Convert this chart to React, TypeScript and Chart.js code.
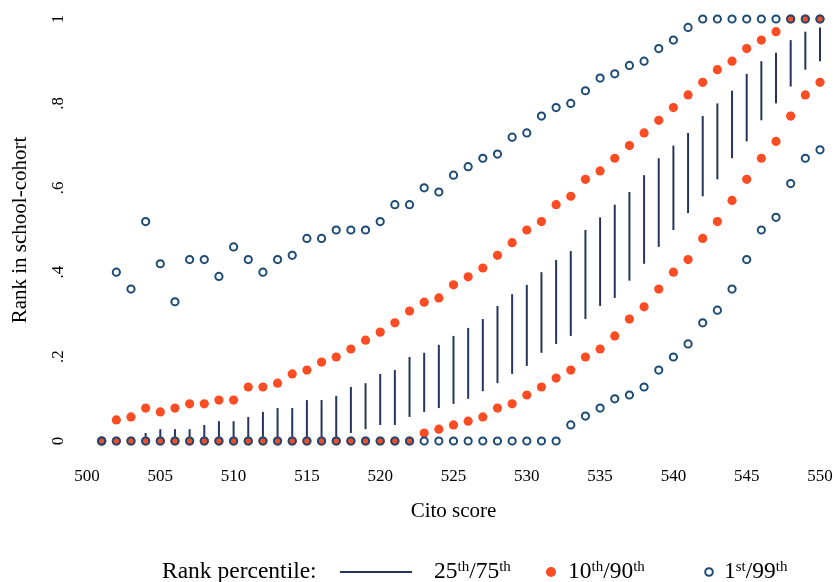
import React, { useEffect, useRef } from 'react';
import { Chart, registerables } from 'chart.js';

Chart.register(...registerables);

const scores = [
  501, 502, 503, 504, 505, 506, 507, 508, 509, 510,
  511, 512, 513, 514, 515, 516, 517, 518, 519, 520,
  521, 522, 523, 524, 525, 526, 527, 528, 529, 530,
  531, 532, 533, 534, 535, 536, 537, 538, 539, 540,
  541, 542, 543, 544, 545, 546, 547, 548, 549, 550,
];

// 1st percentile (lower open circles)
const p1 = [
  0, 0, 0, 0, 0, 0, 0, 0, 0, 0,
  0, 0, 0, 0, 0, 0, 0, 0, 0, 0,
  0, 0, 0, 0, 0, 0, 0, 0, 0, 0,
  0, 0, 0.038, 0.059, 0.078, 0.1, 0.109, 0.128, 0.168, 0.199,
  0.23, 0.28, 0.31, 0.36, 0.43, 0.5, 0.53, 0.61, 0.67, 0.69,
];

// 99th percentile (upper open circles)
const p99 = [
  0, 0.4, 0.36, 0.52, 0.42, 0.33, 0.43, 0.43, 0.39, 0.46,
  0.43, 0.4, 0.43, 0.44, 0.48, 0.48, 0.5, 0.5, 0.5, 0.52,
  0.56, 0.56, 0.6, 0.59, 0.63, 0.65, 0.67, 0.68, 0.72, 0.73,
  0.77, 0.79, 0.8, 0.83, 0.86, 0.87, 0.89, 0.9, 0.93, 0.95,
  0.98, 1, 1, 1, 1, 1, 1, 1, 1, 1,
];

// 10th percentile (lower red dots)
const p10 = [
  0, 0, 0, 0, 0, 0, 0, 0, 0, 0,
  0, 0, 0, 0, 0, 0, 0, 0, 0, 0,
  0, 0, 0.019, 0.028, 0.038, 0.047, 0.057, 0.078, 0.088, 0.109,
  0.128, 0.149, 0.168, 0.199, 0.218, 0.249, 0.289, 0.318, 0.36, 0.4,
  0.43, 0.48, 0.52, 0.57, 0.62, 0.67, 0.71, 0.77, 0.82, 0.85,
];

// 90th percentile (upper red dots)
const p90 = [
  0, 0.05, 0.057, 0.078, 0.069, 0.078, 0.088, 0.088, 0.097, 0.097,
  0.128, 0.128, 0.137, 0.159, 0.168, 0.187, 0.199, 0.218, 0.239, 0.258,
  0.28, 0.308, 0.329, 0.339, 0.37, 0.389, 0.41, 0.44, 0.47, 0.5,
  0.52, 0.56, 0.58, 0.62, 0.64, 0.67, 0.7, 0.73, 0.76, 0.79,
  0.82, 0.85, 0.88, 0.9, 0.93, 0.95, 0.97, 1, 1, 1,
];

// 25th percentile (bottom of vertical lines)
const p25 = [
  0, 0, 0, 0, 0, 0, 0, 0, 0, 0,
  0, 0, 0, 0, 0, 0, 0, 0.019, 0.028, 0.038,
  0.038, 0.057, 0.069, 0.078, 0.088, 0.1, 0.118, 0.137, 0.159, 0.178,
  0.209, 0.23, 0.249, 0.289, 0.32, 0.339, 0.38, 0.42, 0.46, 0.5,
  0.54, 0.58, 0.62, 0.67, 0.71, 0.76, 0.8, 0.84, 0.88, 0.9,
];

// 75th percentile (top of vertical lines)
const p75 = [
  0, 0, 0, 0.019, 0.028, 0.028, 0.028, 0.038, 0.047, 0.047,
  0.057, 0.069, 0.078, 0.078, 0.097, 0.097, 0.107, 0.128, 0.137, 0.159,
  0.168, 0.199, 0.209, 0.228, 0.249, 0.268, 0.289, 0.32, 0.348, 0.37,
  0.4, 0.429, 0.45, 0.5, 0.53, 0.56, 0.59, 0.63, 0.67, 0.7,
  0.73, 0.77, 0.8, 0.83, 0.87, 0.9, 0.92, 0.95, 0.97, 0.98,
];

const xTicks = [500, 505, 510, 515, 520, 525, 530, 535, 540, 545, 550];
const yTicks = [0, 0.2, 0.4, 0.6, 0.8, 1];
const yTickLabels = ['0', '.2', '.4', '.6', '.8', '1'];

const xTitle = 'Cito score';
const yTitle = 'Rank in school-cohort';
const legendTitle = 'Rank percentile:';

const NAVY_LINE = '#27355c';
const NAVY = '#1c4b75';
const RED = '#fc4c23';
const SERIF = '"Liberation Serif", "Times New Roman", Times, serif';

const legendPlugin = {
  id: 'stataLegend',
  afterDraw(chart: any) {
    const ctx = chart.ctx;
    const size = 23.5;
    const supSize = 15;
    const y = 572;
    ctx.save();
    ctx.fillStyle = '#000';
    ctx.textBaseline = 'middle';
    ctx.textAlign = 'left';
    const drawParts = (parts: [string, boolean][], x0: number) => {
      let x = x0;
      for (const [t, sup] of parts) {
        ctx.font = `${sup ? supSize : size}px ${SERIF}`;
        ctx.fillText(t, x, sup ? y - 5 : y);
        x += ctx.measureText(t).width;
      }
    };
    drawParts([[legendTitle, false]], 162);
    // line
    ctx.strokeStyle = NAVY_LINE;
    ctx.lineWidth = 2;
    ctx.beginPath();
    ctx.moveTo(340, y);
    ctx.lineTo(412, y);
    ctx.stroke();
    drawParts([['25', false], ['th', true], ['/75', false], ['th', true]], 434);
    // red dot
    ctx.fillStyle = RED;
    ctx.beginPath();
    ctx.arc(551, y, 5, 0, Math.PI * 2);
    ctx.fill();
    ctx.fillStyle = '#000';
    drawParts([['10', false], ['th', true], ['/90', false], ['th', true]], 568);
    // open circle
    ctx.strokeStyle = NAVY;
    ctx.lineWidth = 2;
    ctx.beginPath();
    ctx.arc(709, y, 3.8, 0, Math.PI * 2);
    ctx.stroke();
    ctx.fillStyle = '#000';
    drawParts([['1', false], ['st', true], ['/99', false], ['th', true]], 724);
    ctx.restore();
  },
};

export default function App() {
  const ref = useRef<HTMLCanvasElement | null>(null);

  useEffect(() => {
    if (!ref.current) return;
    const bars = scores
      .map((s, i) => ({ x: s, y: [p25[i], p75[i]] }))
      .filter((d) => d.y[1] > d.y[0]);
    const pts = (arr: number[]) => scores.map((s, i) => ({ x: s, y: arr[i] }));

    const chart = new Chart(ref.current, {
      type: 'scatter',
      data: {
        datasets: [
          {
            type: 'scatter',
            label: '1st/99th',
            data: [...pts(p1), ...pts(p99)],
            pointRadius: 3.6,
            pointBorderWidth: 2,
            pointBorderColor: NAVY,
            pointBackgroundColor: 'rgba(0,0,0,0)',
            pointHoverRadius: 3.6,
            clip: false,
            order: 1,
          } as any,
          {
            type: 'scatter',
            label: '10th/90th',
            data: [...pts(p10), ...pts(p90)],
            pointRadius: 4.6,
            pointBorderWidth: 0,
            pointBackgroundColor: RED,
            pointBorderColor: RED,
            clip: false,
            order: 2,
          } as any,
          {
            type: 'bar',
            label: '25th/75th',
            data: bars,
            backgroundColor: NAVY_LINE,
            borderWidth: 0,
            barThickness: 2,
            inflateAmount: 0,
            clip: false,
            order: 3,
          } as any,
        ],
      },
      options: {
        animation: false,
        responsive: false,
        devicePixelRatio: 1,
        layout: { padding: { left: 0, right: 14, top: 19, bottom: 0 } },
        plugins: {
          legend: { display: false },
          tooltip: { enabled: false },
        },
        scales: {
          x: {
            type: 'linear',
            min: 500,
            max: 550,
            offset: false,
            grid: { display: false, drawTicks: false },
            border: { display: false },
            afterBuildTicks: (scale: any) => {
              scale.ticks = xTicks.map((v) => ({ value: v }));
            },
            afterFit: (scale: any) => {
              scale.height = 141;
              scale.paddingLeft = 0;
              scale.paddingRight = 0;
            },
            ticks: {
              color: '#000',
              font: { family: SERIF, size: 17 },
              padding: 25,
              maxRotation: 0,
              callback: (v: any) => String(v),
            },
            title: {
              display: true,
              text: xTitle,
              color: '#000',
              font: { family: SERIF, size: 21 },
              padding: { top: 0, bottom: 58 },
            },
          },
          y: {
            type: 'linear',
            min: 0,
            max: 1,
            grid: { display: false, drawTicks: false },
            border: { display: false },
            afterBuildTicks: (scale: any) => {
              scale.ticks = yTicks.map((v) => ({ value: v }));
            },
            afterFit: (scale: any) => {
              scale.width = 87;
              scale.paddingTop = 0;
              scale.paddingBottom = 0;
            },
            ticks: {
              color: '#000',
              font: { family: SERIF, size: 17 },
              padding: 22,
              minRotation: 90,
              maxRotation: 90,
              crossAlign: 'center',
              callback: (v: any) => {
                const i = yTicks.findIndex((t) => Math.abs(t - v) < 1e-9);
                return i >= 0 ? yTickLabels[i] : '';
              },
            },
            title: {
              display: true,
              text: yTitle,
              color: '#000',
              font: { family: SERIF, size: 21 },
              padding: { top: 8, bottom: 0 },
            },
          },
        },
      } as any,
      plugins: [legendPlugin],
    });
    return () => chart.destroy();
  }, []);

  return (
    <div style={{ position: 'absolute', left: 0, top: 0, width: 834, height: 582, background: '#fff' }}>
      <canvas ref={ref} width={834} height={582} style={{ width: 834, height: 582, display: 'block' }} />
    </div>
  );
}
